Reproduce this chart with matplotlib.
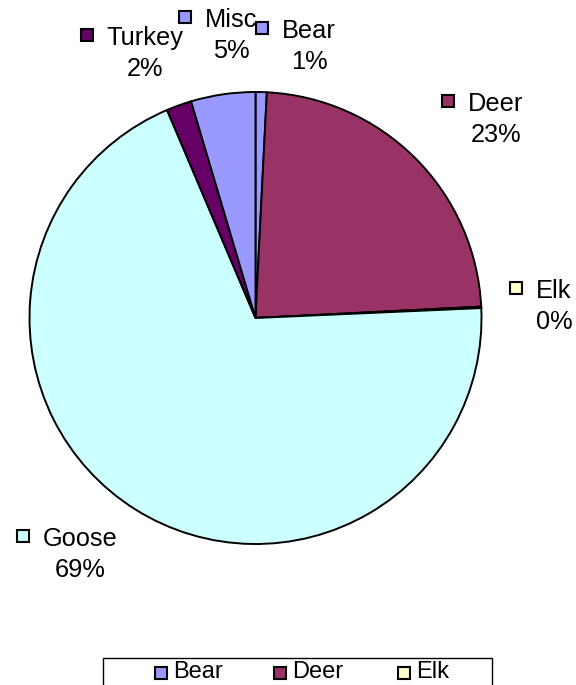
import matplotlib
matplotlib.use("Agg")
import matplotlib.pyplot as plt
from matplotlib.patches import Rectangle

categories = ["Bear", "Deer", "Elk", "Goose", "Turkey", "Misc"]
values = [0.8, 23.4, 0.1, 69.3, 1.8, 4.6]
colors = ["#9999FF", "#993366", "#FFFFCC", "#CCFFFF", "#660066", "#9999FF"]

# where Excel put each label: (centre x of name, baseline of name line) in pixels
label_pos = [(309, 38), (496, 111), (554, 298), (80, 546), (145, 45), (231, 27)]

W, H = 576, 685
plt.rcParams["font.family"] = ["Liberation Sans", "DejaVu Sans"]

fig = plt.figure(figsize=(W / 100, H / 100), dpi=100)

cx, cy, r = 255.5, 318, 226
ax = fig.add_axes([(cx - r) / W, 1 - (cy + r) / H, 2 * r / W, 2 * r / H])
ax.pie(values, colors=colors, startangle=90, counterclock=False,
       wedgeprops=dict(edgecolor="black", linewidth=1.4))
ax.set_xlim(-1, 1)
ax.set_ylim(-1, 1)
ax.set_aspect("equal")
ax.axis("off")


def fx(px):
    return px / W


def fy(py):
    return 1 - py / H


total = sum(values)
renderer = fig.canvas.get_renderer()
sq = 12
for name, v, col, (lx, ly) in zip(categories, values, colors, label_pos):
    t = fig.text(fx(lx), fy(ly), name, ha="center", va="baseline", fontsize=18.3)
    fig.text(fx(lx), fy(ly + 31), f"{round(v / total * 100)}%", ha="center",
             va="baseline", fontsize=18.3)
    bb = t.get_window_extent(renderer)
    sx = bb.x0 - 20
    fig.patches.append(Rectangle((fx(sx - sq / 2), fy(ly - 10 + sq / 2)), sq / W, sq / H,
                                 transform=fig.transFigure, facecolor=col,
                                 edgecolor="black", linewidth=1.5))

# legend box, its lower part falls off the picture like in the original
fig.patches.append(Rectangle((fx(103), fy(720)), (492 - 103) / W, (720 - 658) / H,
                             transform=fig.transFigure, facecolor="white",
                             edgecolor="black", linewidth=1.0, clip_on=False))
col_x = [161, 280, 404]
for i, (name, col) in enumerate(zip(categories, colors)):
    row, c = divmod(i, 3)
    if row > 0:
        break  # second row is below the bottom edge, not visible
    y = 673
    fig.patches.append(Rectangle((fx(col_x[c] - 6), fy(y + 6)), 12 / W, 12 / H,
                                 transform=fig.transFigure, facecolor=col,
                                 edgecolor="black", linewidth=1.5))
    fig.text(fx(col_x[c] + 12), fy(y + 5), name, ha="left", va="baseline", fontsize=17)

fig.savefig("out.png", dpi=100)
